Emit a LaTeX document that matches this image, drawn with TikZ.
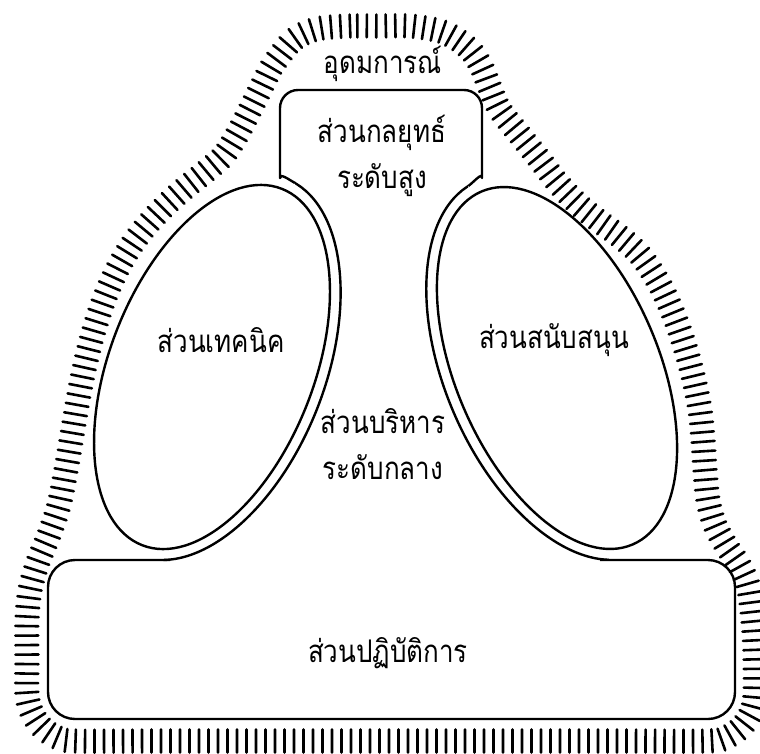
\documentclass[tikz,border=0pt]{standalone}
\usepackage{fontspec}
\usepackage{graphicx}
\newfontfamily\thaifont[Script=Thai]{Loma}
\newcommand{\tallthai}[1]{\scalebox{1}[1.2]{#1}}
\usetikzlibrary{decorations.pathreplacing}
\begin{document}
\begin{tikzpicture}[x=1pt,y=-1pt,
  outline/.style={line width=2.4pt, line join=round, draw=black},
  hatch/.style={decorate, line width=2.6pt, line cap=round,
     decoration={ticks, segment length=9.5pt, amplitude=11.5pt}},
  txt/.style={font=\thaifont\fontsize{26}{46}\selectfont, align=center, inner sep=0pt}]
\useasboundingbox (0,0) rectangle (760,753);

% outer hatched boundary (ideology)
\draw[hatch] plot[smooth cycle, tension=0.55] coordinates {
 (380,26) (350,26) (322,28) (305,33) (292,41) (281,54) (271,68) (261,88)
 (250,110) (238,133) (224,155) (205,172) (185,188) (165,206) (148,224)
 (133,243) (118,268) (105,297) (94,330) (85,365) (78,400) (72,435)
 (66,470) (59,505) (49,535) (38,562) (30,590) (27,620) (27,660) (27,694)
 (31.6,712) (41.8,727.2) (57,737.4) (75,741) (150,741) (230,741) (310,741)
 (390,741) (470,741) (550,741) (630,741) (708,741) (726,737.4)
 (741.2,727.2) (751.4,712) (755,694) (755,655) (753,620) (748,585)
 (738,563) (727,547) (715,525) (708,500) (705,470) (703,440) (700,410)
 (694,380) (686,350) (675,318) (660,285) (640,255) (618,235) (600,222)
 (578,204) (557,182) (540,160) (519,134) (500,110) (490,88) (482,68)
 (472,52) (458,40) (440,31) (410,26)};

% strategic apex with its neck fillets
\draw[outline, rounded corners=18pt]
  (295,183) .. controls (288,179) and (280,173) .. (280,160)
  -- (280,90) -- (482,90) -- (482,160)
  .. controls (482,172) and (475,181) .. (468.3,186);
% operating core
\draw[outline, rounded corners=27pt] (170,560) -- (48,560) -- (48,719) -- (735,719) -- (735,560) -- (600,560);
% middle line: offsets of the two ellipses, kept only inside the central region
\begin{scope}
  \clip (295,150) -- (468,150) -- (468,187) -- (480,220) -- (598,520) -- (611,566)
        -- (162,566) -- (175,520) -- (285,220) -- (295,185) -- cycle;
  \draw[outline, rotate around={68.6:(212,367)}] (212,367) ellipse [x radius=202.4pt, y radius=113.1pt];
  \draw[outline, rotate around={-66.8:(557,368)}] (557,368) ellipse [x radius=203pt, y radius=112.5pt];
\end{scope}
% technostructure and support staff
\draw[outline, rotate around={68.6:(212,367)}] (212,367) ellipse [x radius=191.4pt, y radius=102.1pt];
\draw[outline, rotate around={-66.8:(557,368)}] (557,368) ellipse [x radius=192pt, y radius=101.5pt];

% labels
\node[txt] (ideology) at (383,64) {\tallthai{อุดมการณ์}};
\node[txt] (apex) at (382,156) {\tallthai{ส่วนกลยุทธ์}\\\tallthai{ระดับสูง}};
\node[txt] (techno) at (221,340) {\tallthai{ส่วนเทคนิค}};
\node[txt] (support) at (554,340) {\tallthai{ส่วนสนับสนุน}};
\node[txt] (middle) at (383,444) {\tallthai{ส่วนบริหาร}\\\tallthai{ระดับกลาง}};
\node[txt] (core) at (388,653) {\tallthai{ส่วนปฏิบัติการ}};
\end{tikzpicture}
\end{document}
